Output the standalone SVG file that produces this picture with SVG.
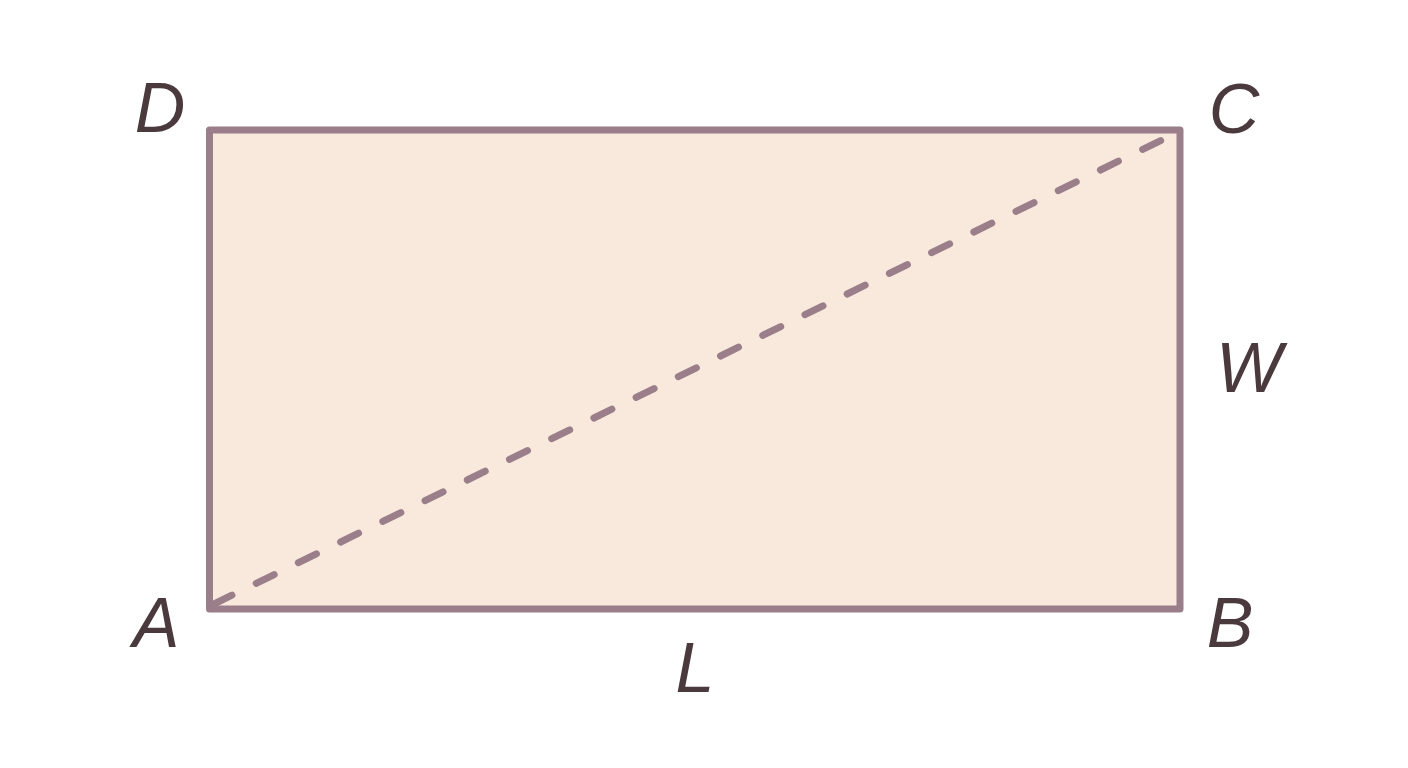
<svg xmlns="http://www.w3.org/2000/svg" width="1408" height="768" viewBox="0 0 1408 768">
<style>
.lbl{font-family:"Liberation Sans",Arial,sans-serif;font-style:italic;font-size:70px;fill:#4a3a3d;text-anchor:middle}
.box{fill:#f9e8dc;stroke:#9a7f8b;stroke-width:7;stroke-linejoin:round}
.diag{fill:none;stroke:#9a7f8b;stroke-width:7;stroke-linecap:round;stroke-dasharray:20 27}
</style>
<rect width="1408" height="768" fill="#ffffff"/>
<g id="rectangle">
<rect class="box" x="209.5" y="130" width="970.5" height="479"/>
</g>
<g id="connectors">
<line class="diag" x1="214" y1="604" x2="1172" y2="135"/>
</g>
<g id="labels">
<text id="D" class="lbl" x="160" y="132">D</text>
<text id="C" class="lbl" x="1234" y="133">C</text>
<text id="A" class="lbl" x="156" y="647">A</text>
<text id="B" class="lbl" x="1230" y="647">B</text>
<text id="W" class="lbl" x="1249" y="392">W</text>
<text id="L" class="lbl" x="695" y="692">L</text>
</g>
</svg>
